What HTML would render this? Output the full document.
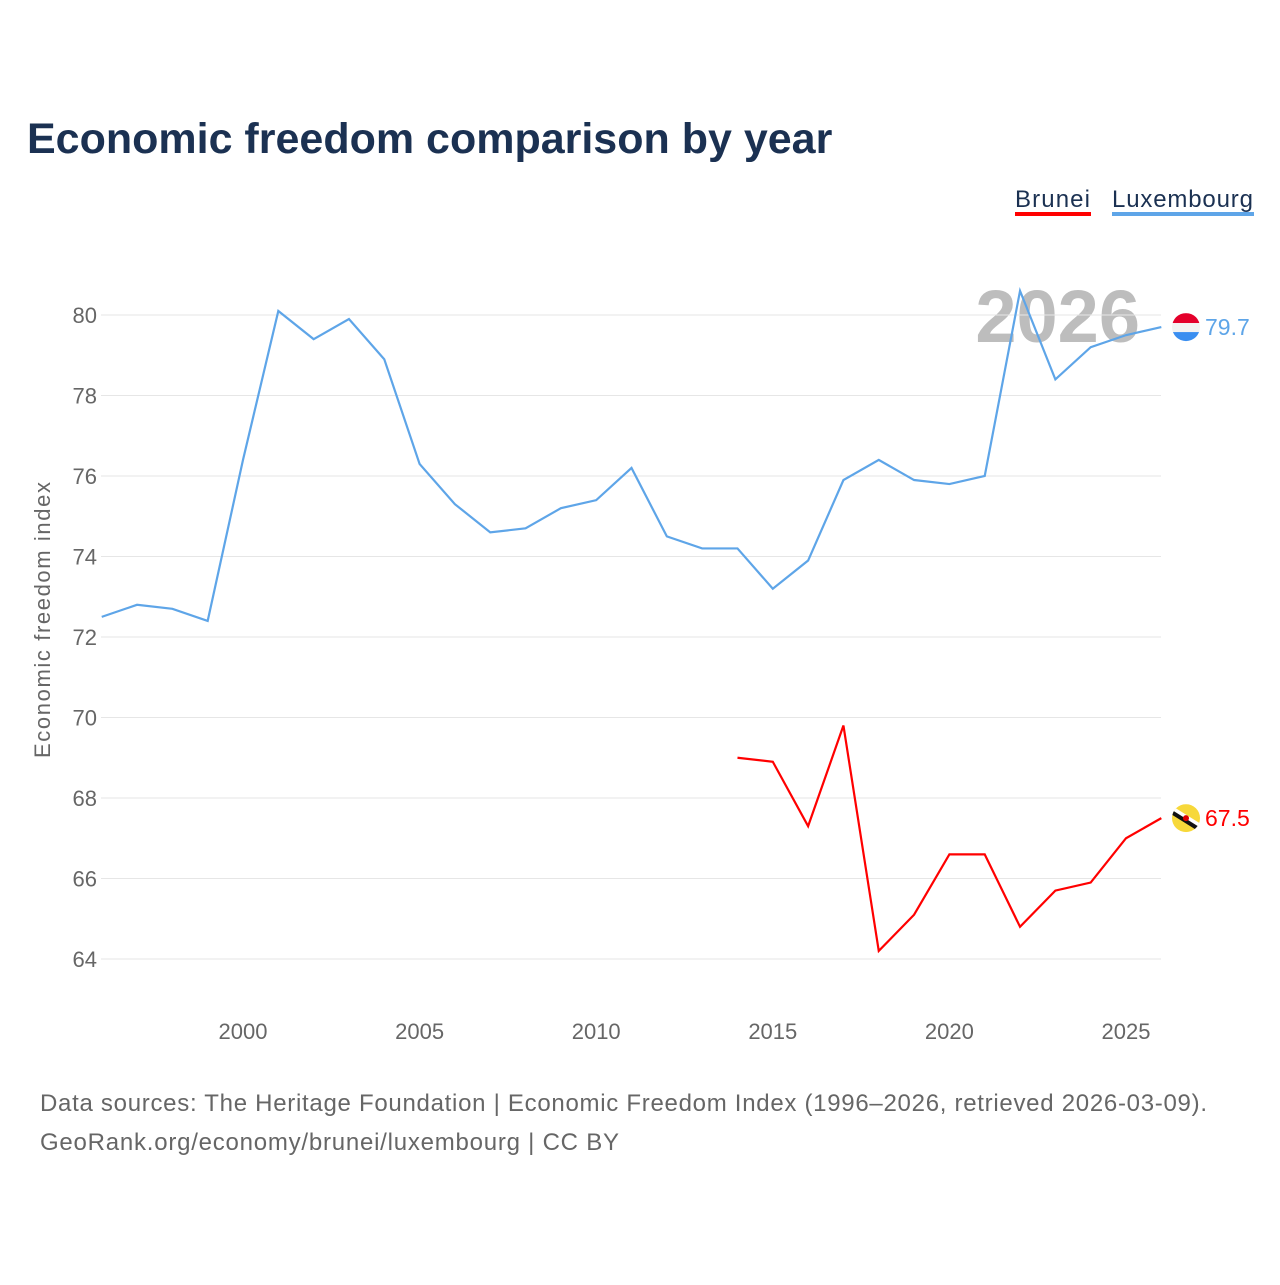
<!DOCTYPE html>
<html><head><meta charset="utf-8"><style>
body{margin:0;background:#fff;font-family:"Liberation Sans",sans-serif;}
</style></head><body>
<svg width="1280" height="1280" xmlns="http://www.w3.org/2000/svg" id="chart">
<rect width="1280" height="1280" fill="#fff"/>
<text x="27" y="153" font-size="43" font-weight="bold" fill="#1b3152">Economic freedom comparison by year</text>
<g>
<text x="1015" y="207" font-size="24" fill="#1b3152" textLength="75">Brunei</text>
<rect x="1015" y="212" width="76" height="4" fill="#ff0000"/>
<text x="1112" y="207" font-size="24" fill="#1b3152" textLength="141">Luxembourg</text>
<rect x="1112" y="212" width="142" height="4" fill="#5ea5e8"/>
</g>
<text x="1140" y="342" font-size="74" font-weight="bold" fill="#bdbdbd" text-anchor="end">2026</text>
<g id="grid"></g><g id="xt"></g><g id="lines"></g>
<text transform="translate(50,620) rotate(-90)" font-size="22" fill="#666" text-anchor="middle" textLength="276">Economic freedom index</text>
<text x="40" y="1111" font-size="24" fill="#666" textLength="1167">Data sources: The Heritage Foundation | Economic Freedom Index (1996–2026, retrieved 2026-03-09).</text>
<text x="40" y="1150" font-size="24" fill="#666" textLength="579">GeoRank.org/economy/brunei/luxembourg | CC BY</text>
</svg>
<script>
const luxYears=[1996,1997,1998,1999,2000,2001,2002,2003,2004,2005,2006,2007,2008,2009,2010,2011,2012,2013,2014,2015,2016,2017,2018,2019,2020,2021,2022,2023,2024,2025,2026];
const luxValues=[72.5,72.8,72.7,72.4,76.4,80.1,79.4,79.9,78.9,76.3,75.3,74.6,74.7,75.2,75.4,76.2,74.5,74.2,74.2,73.2,73.9,75.9,76.4,75.9,75.8,76.0,80.6,78.4,79.2,79.5,79.7];
const bruYears=[2014,2015,2016,2017,2018,2019,2020,2021,2022,2023,2024,2025,2026];
const bruValues=[69.0,68.9,67.3,69.8,64.2,65.1,66.6,66.6,64.8,65.7,65.9,67.0,67.5];
const yTicks=[64,66,68,70,72,74,76,78,80];
const xTicks=[2000,2005,2010,2015,2020,2025];
const NS="http://www.w3.org/2000/svg";
const X=y=>243+(y-2000)*35.32, Y=v=>315+(80-v)*40.25;
function mk(t,a,p){const e=document.createElementNS(NS,t);for(const k in a)e.setAttribute(k,a[k]);document.getElementById(p).appendChild(e);return e;}
yTicks.forEach(v=>{
 const l=mk('line',{x1:101,x2:1161,y1:Y(v),y2:Y(v),stroke:'#e6e6e6','stroke-width':1},'grid');
 
 
 const t=mk('text',{x:97,y:Y(v)+8,'font-size':22,fill:'#666','text-anchor':'end'},'grid');t.textContent=v;
 
 
});
xTicks.forEach(v=>{
 const t=mk('text',{x:X(v),y:1039,'font-size':22,fill:'#666','text-anchor':'middle'},'xt');t.textContent=v;
 
 
});
function series(ys,vs,col,name){
 const p=mk('polyline',{points:ys.map((y,i)=>X(y)+','+Y(vs[i])).join(' '),fill:'none',stroke:col,'stroke-width':2.2},'lines');
 
 
 const ly=Y(vs[vs.length-1]);
 const t=mk('text',{x:1205,y:ly+8,'font-size':23,fill:col},'lines');t.textContent=vs[vs.length-1].toFixed(1);
 
 
 return ly;
}
const ly=series(luxYears,luxValues,'#5ea5e8','luxembourg');
const by=series(bruYears,bruValues,'#ff0000','brunei');
let g=mk('g',{},'lines');
g.innerHTML=`<clipPath id="c1"><circle cx="1186" cy="${ly}" r="14"/></clipPath><g clip-path="url(#c1)"><rect x="1172" y="${ly-14}" width="28" height="10" fill="#e4002b"/><rect x="1172" y="${ly-4}" width="28" height="9" fill="#f2f2f2"/><rect x="1172" y="${ly+5}" width="28" height="10" fill="#3a8ef0"/></g>`;
g=mk('g',{},'lines');
g.innerHTML=`<clipPath id="c2"><circle cx="1186" cy="${by}" r="14"/></clipPath><g clip-path="url(#c2)"><rect x="1172" y="${by-14}" width="28" height="28" fill="#f7d83a"/><line x1="1170" y1="${by-10}" x2="1202" y2="${by+10}" stroke="#fff" stroke-width="6"/><line x1="1170" y1="${by-7}" x2="1202" y2="${by+13}" stroke="#111" stroke-width="4"/><circle cx="1186" cy="${by}" r="3" fill="#d00"/></g>`;
</script>
</body></html>
